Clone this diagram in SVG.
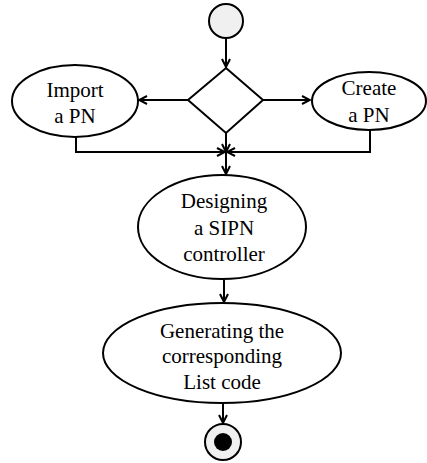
<svg xmlns="http://www.w3.org/2000/svg" width="427" height="463" viewBox="0 0 427 463">
<style>
.n{fill:#fff;stroke:#000;stroke-width:2}
.t{font-family:'Liberation Serif',serif;font-size:21px;fill:#000;text-anchor:middle}
.c{fill:none;stroke:#000;stroke-width:2}
</style>
<defs>
<marker id="a" viewBox="0 0 10 10" refX="9" refY="5" markerWidth="10" markerHeight="10" markerUnits="userSpaceOnUse" orient="auto">
<path d="M1,1 L9,5 L1,9" fill="none" stroke="#000" stroke-width="2"/>
</marker>
</defs>
<g id="connectors">
<line class="c" x1="226" y1="38" x2="226" y2="67" marker-end="url(#a)"/>
<line class="c" x1="188" y1="100" x2="139" y2="100" marker-end="url(#a)"/>
<line class="c" x1="263" y1="100" x2="310" y2="100" marker-end="url(#a)"/>
<line class="c" x1="226" y1="133" x2="226" y2="152" marker-end="url(#a)"/>
<polyline class="c" points="76,137 76,152 225,152" marker-end="url(#a)"/>
<polyline class="c" points="370,130 370,152 227,152" marker-end="url(#a)"/>
<line class="c" x1="226" y1="152" x2="226" y2="174" marker-end="url(#a)"/>
<line class="c" x1="224" y1="280" x2="224" y2="302" marker-end="url(#a)"/>
<line class="c" x1="223" y1="403" x2="223" y2="423" marker-end="url(#a)"/>
</g>
<g id="start"><circle cx="226" cy="21" r="17" fill="#f0f0f0" stroke="#000" stroke-width="2"/></g>
<g id="decision"><polygon class="n" points="226,68 263,100 226,133 188,100"/></g>
<g id="import">
<ellipse class="n" cx="75" cy="101" rx="63" ry="36"/>
<text class="t" x="75" y="97" font-family="Liberation Serif">Import</text>
<text class="t" x="75" y="123" font-family="Liberation Serif">a PN</text>
</g>
<g id="create">
<ellipse class="n" cx="369" cy="101" rx="57" ry="29"/>
<text class="t" x="369" y="95">Create</text>
<text class="t" x="369" y="122">a PN</text>
</g>
<g id="designing">
<ellipse class="n" cx="222" cy="227" rx="84" ry="52"/>
<text class="t" x="224" y="208">Designing</text>
<text class="t" x="224" y="235">a SIPN</text>
<text class="t" x="224" y="261">controller</text>
</g>
<g id="generating">
<ellipse class="n" cx="222" cy="353" rx="119" ry="50"/>
<text class="t" x="222" y="338">Generating the</text>
<text class="t" x="222" y="363">corresponding</text>
<text class="t" x="222" y="389">List code</text>
</g>
<g id="end">
<circle cx="223" cy="442" r="18" fill="#f0f0f0" stroke="#000" stroke-width="2"/>
<circle cx="223" cy="442" r="9" fill="#000"/>
</g>
</svg>
